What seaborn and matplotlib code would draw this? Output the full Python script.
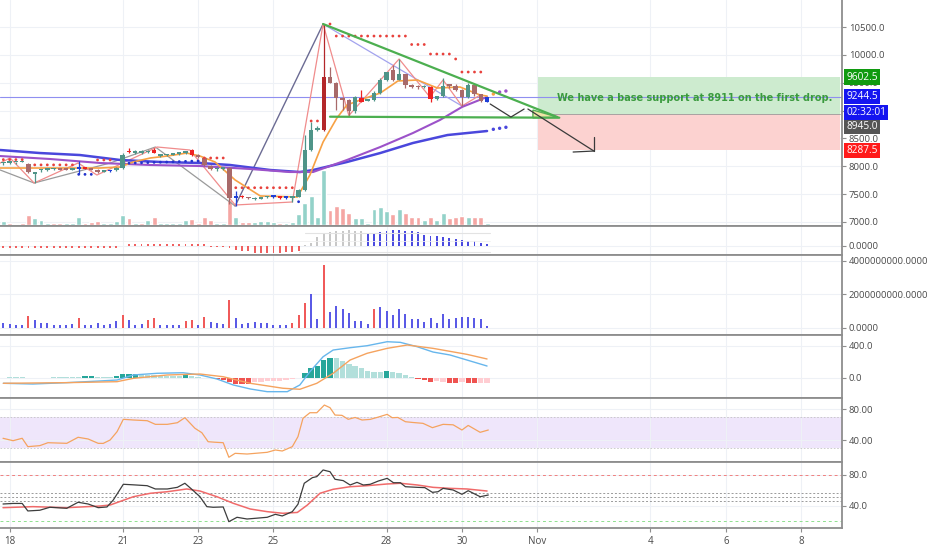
import numpy as np
import matplotlib
matplotlib.use("Agg")
import matplotlib.pyplot as plt
import matplotlib.transforms as mtransforms
from matplotlib.ticker import FormatStrFormatter, FuncFormatter
import seaborn as sns

sns.set_style("white")
plt.rcParams['font.family'] = ['Open Sans', 'DejaVu Sans']

# ---------------- DATA ----------------
# 4h candles, index 0 = Oct 17 20:00
opens = [8050, 8060, 8068, 8075, 8045, 7860, 7925, 7935, 7945, 7952,
         7940, 7935, 7960, 7975, 7960, 7935, 7905, 7912, 7930, 7975,
         8265, 8245, 8245, 8250, 8300, 8190, 8198, 8205, 8220, 8240,
         8290, 8200, 8150, 8005, 7945, 7955, 7969, 7435, 7452, 7440,
         7410, 7420, 7442, 7448, 7448, 7432, 7430, 7450, 7570, 8290,
         8660, 8650, 9600, 9500, 9230, 9190, 8990, 9230, 9180, 9190,
         9320, 9550, 9720, 9555, 9650, 9445, 9430, 9420, 9430, 9210,
         9270, 9450, 9450, 9370, 9240, 9460, 9290, 9160]
highs = [8080, 8095, 8085, 8115, 8060, 7895, 7955, 7965, 7962, 7960,
         7955, 7970, 8095, 7990, 7975, 7945, 7935, 7935, 7990, 8235,
         8330, 8290, 8285, 8300, 8335, 8220, 8225, 8235, 8255, 8280,
         8310, 8212, 8165, 8015, 7982, 7995, 7985, 7560, 7485, 7452,
         7440, 7452, 7468, 7465, 7458, 7445, 7458, 7585, 8560, 8800,
         8725, 10554, 9780, 9520, 9250, 9210, 9260, 9370, 9210, 9345,
         9580, 9700, 9820, 9926, 9660, 9470, 9455, 9462, 9440, 9270,
         9585, 9470, 9470, 9380, 9500, 9480, 9300, 9250]
lows = [8030, 8040, 8045, 8068, 7880, 7700, 7905, 7920, 7930, 7928,
        7925, 7925, 7860, 7950, 7930, 7880, 7890, 7900, 7920, 7960,
        8230, 8220, 8225, 8230, 8230, 8170, 8180, 8195, 8210, 8225,
        8190, 8150, 8010, 7935, 7920, 7940, 7320, 7290, 7425, 7415,
        7395, 7410, 7430, 7435, 7420, 7415, 7360, 7440, 7560, 8280,
        8640, 8640, 9490, 9010, 9010, 8911, 8960, 9150, 9165, 9170,
        9300, 9530, 9530, 9540, 9400, 9400, 9380, 9400, 9160, 9190,
        9250, 9410, 9350, 9082, 9220, 9270, 9150, 9150]
closes = [8065, 8072, 8075, 8080, 7900, 7872, 7935, 7950, 7952, 7940,
          7935, 7955, 7985, 7960, 7940, 7900, 7925, 7920, 7975, 8200,
          8250, 8255, 8258, 8265, 8240, 8205, 8210, 8220, 8242, 8265,
          8205, 8165, 8025, 7950, 7955, 7968, 7430, 7452, 7440, 7425,
          7418, 7435, 7452, 7455, 7432, 7436, 7442, 7570, 8300, 8650,
          8690, 9603, 9500, 9230, 9190, 8990, 9240, 9160, 9195, 9320,
          9550, 9690, 9550, 9660, 9460, 9430, 9420, 9440, 9200, 9262,
          9450, 9440, 9370, 9240, 9460, 9290, 9170, 9244.5]
candle_codes = ("ggggbggggb" "bgurbbgugg" "rgggrggggg" "rbbbggburb"
                "gggurugggg" "gdbbbbgrgg" "ggbgbbbgrg" "gbbbgbbu")
# main-pane volume (thousands)
main_vol = [4, 2.7, 1.3, 2.7, 10, 7.3, 5, 2.7, 2.3, 2.7,
            2.7, 2.7, 8.3, 2.7, 3.3, 4, 2.7, 2.7, 4, 10.7,
            7.7, 2.7, 2.7, 5, 8.3, 2.7, 2.7, 2.7, 2.7, 5,
            6.7, 2.7, 8.3, 5, 2.7, 2.7, 25, 8, 3, 3,
            3, 4, 4, 3, 2, 2, 3, 11, 22, 29,
            8, 55, 15, 19, 17, 12, 7, 7, 2, 16,
            18, 14, 11, 16, 12, 8, 8, 5, 8, 5,
            12, 7, 8, 9, 8, 8, 8, 2]
main_vol_codes = ("grgrrgggrr" "gggrrrgggg" "rgrgrggggg" "rrrrggrgrr"
                  "ggggrggggg" "ggrrrrgggg" "ggrgrrrgrg" "grrrgrrg")

# parabolic SAR dots
sar_red_x = [0, 1, 2, 3, 5, 6, 7, 8, 9, 10, 11, 15, 16, 17, 32, 33, 34, 35,
             37, 38, 39, 40, 41, 42, 43, 44, 45, 46, 49, 50, 52,
             53, 54, 55, 56, 57, 58, 59, 60, 61, 62, 63, 64, 65, 66, 67,
             68, 69, 70, 71, 72, 73, 74, 75, 76]
sar_red_y = [8120, 8120, 8120, 8120, 8025, 8025, 8025, 8025, 8025, 8025, 8025,
             8113, 8113, 8113, 8149, 8149, 8149, 8149,
             7615, 7615, 7615, 7615, 7615, 7615, 7615, 7615, 7615, 7615,
             8813, 8813, 10554,
             10338, 10338, 10338, 10338, 10338, 10338, 10338, 10338, 10338,
             10338, 10338, 10338, 10186, 10186, 10186,
             10015, 10015, 10015, 10015, 9926, 9692, 9692, 9692, 9692]
sar_blue_x = [12, 13, 14, 20, 21, 22, 23, 24, 25, 26, 27, 28, 29, 30, 31, 47]
sar_blue_y = [7855, 7855, 7855, 8055, 8060, 8062, 8066, 8070, 8073, 8076,
              8080, 8084, 8088, 8092, 8096, 7364]
fwd_orange_x, fwd_orange_y = [78], [9297]
fwd_purple_x, fwd_purple_y = [79, 80], [9333, 9351]
fwd_blue_x, fwd_blue_y = [78, 79, 80], [8664, 8682, 8700]

# moving averages / zigzags (candle index, price)
ma_blue_x = [-0.5, 5.8, 12.2, 18.6, 25.0, 31.3, 36.1, 42.5, 47.2, 49.3, 54.7, 60.0, 65.2, 70.7, 77.0]
ma_blue_y = [8292, 8238, 8202, 8113, 8077, 8059, 8023, 7933, 7897, 7933, 8077, 8238, 8418, 8561, 8633]
ma_purple_x = [-0.5, 7.4, 15.4, 23.4, 31.3, 39.3, 45.6, 49.3, 54.7, 60.0, 65.2, 69.5, 73.0, 77.0]
ma_purple_y = [8184, 8131, 8059, 8023, 8005, 7951, 7897, 7897, 8113, 8346, 8597, 8831, 9064, 9244]
ema_x = [-0.5, 4.7, 10.1, 15.4, 18.6, 20.65, 23.4, 26.1, 29.2, 31.3, 33.7, 36.9, 40.9,
         46.8, 48.8, 50.9, 53.1, 54.7, 56.8, 60.0, 62.8, 65.9, 69.1, 72.7, 75.9, 77.0]
ema_y = [7969, 7969, 7969, 7969, 7987, 8077, 8149, 8184, 8238, 8184, 8077, 7754, 7467,
         7449, 7843, 8436, 8867, 9100, 9190, 9315, 9531, 9549, 9405, 9423, 9279, 9261]
zz_gray_x = [-0.5, 4.9, 17.0, 24.2, 36.9]
zz_gray_y = [7933, 7700, 8059, 8346, 7287]
zz_slate_x, zz_slate_y = [36.9, 50.9], [7287, 10554]
zz_lav_x, zz_lav_y = [50.9, 73.0], [10554, 9082]
zz_pink_x = [-0.5, 1.07, 4.9, 11.9, 14.9, 24.5, 29.7, 36.9, 46.0, 50.9, 55.0, 63.0, 67.9, 70.0, 73.0, 75.9]
zz_pink_y = [8059, 8149, 7700, 8059, 7843, 8346, 8292, 7305, 7359, 10554, 8911, 9926, 9244, 9549, 9082, 9279]

# drawings
tri_upper_x, tri_upper_y = [50.9, 88.2], [10554, 8884]
tri_lower_x, tri_lower_y = [52.0, 88.5], [8890, 8872]
tri_tip_x, tri_tip_y = [84.3, 88.3, 84.3], [9010, 8880, 8868]
proj1_x, proj1_y = [77.5, 80.8, 82.9], [9118, 8884, 9028]
proj2_x, proj2_y = [83.5, 94.0], [9028, 8274]
arrow_h_x, arrow_h_y = [90.7, 94.0], [8256, 8274]
arrow_v_x, arrow_v_y = [94.1, 94.1], [8526, 8274]
pos_start, pos_end = 85.1, 133.2
target_price, entry_price, stop_price = 9602.5, 8945.0, 8287.5
last_price = 9244.5
note_text = "We have a base support at 8911 on the first drop."

# pane 2 oscillator histogram
osc_vals = [-25] * 19 + [0] + [22] * 13 + [-8, -8, -8] + \
           [-26, -41, -48, -55, -70, -76, -76, -70, -70, -66, -60, -50] + \
           [5, 24, 90, 117, 140, 150, 150, 157, 150, 145] + \
           [125, 130, 140, 150, 157, 157, 150, 143, 133, 110,
            100, 93, 87, 77, 70, 60, 50, 43, 27, 15]
osc_codes = "r" * 48 + "k" * 10 + "u" * 20

# pane 3 bars (billions)
bar3_vals = [0.30, 0.20, 0.14, 0.14, 0.70, 0.44, 0.30, 0.26, 0.18, 0.18,
             0.18, 0.24, 0.56, 0.18, 0.18, 0.30, 0.18, 0.20, 0.38, 0.74,
             0.46, 0.18, 0.24, 0.46, 0.56, 0.18, 0.14, 0.14, 0.18, 0.40,
             0.44, 0.14, 0.64, 0.34, 0.26, 0.22, 1.65, 0.56, 0.22, 0.30,
             0.34, 0.30, 0.30, 0.14, 0.14, 0.14, 0.26, 0.74, 1.49, 1.99,
             0.50, 3.74, 0.94, 1.29, 1.09, 0.86, 0.40, 0.40, 0.20, 1.13,
             1.23, 1.00, 0.74, 1.09, 0.80, 0.50, 0.50, 0.34, 0.56, 0.26,
             0.84, 0.50, 0.60, 0.64, 0.64, 0.56, 0.54, 0.10]
bar3_codes = ("bbbbrbbbbb" "bbrbbbbbbr" "bbbrrbbbbr" "rbrbbbrbbb"
              "bbbbbbrrrb" "brbbbbbbbr" "bbbbbbbbbb" "bbbbbbbb")

# MACD
macd_hist = [0, 10, 10, 10, 0, 0, 0, 0, 12, 12,
             12, 12, 12, 20, 20, 5, 5, 5, 20, 45,
             45, 42, 35, 30, 28, 25, 25, 22, 20, 40,
             20, 12, 0, -10, -15, -30, -55, -80, -85, -85,
             -60, -50, -45, -42, -40, -30, -20, -10, 62, 117,
             150, 221, 250, 242, 212, 167, 150, 117, 83, 75,
             75, 87, 67, 54, 33, 3, -12, -29, -50, -42,
             -50, -67, -71, -50, -62, -71, -71, -71]
macd_codes = ("tttttttttt" "tttTTtttTT" "TTtttttttT" "tttRRRRRRR"
              "ppppppppTT" "TTTttttttt" "tTttttRRRp" "pRRpRRpp")
macd_line_x = [0, 4.7, 10.1, 15.4, 18.1, 20.7, 24.5, 28.6, 31.3, 34.0, 36.6, 39.3, 42.0,
               45.2, 47.2, 48.8, 50.9, 52.5, 55.2, 57.9, 61.1, 63.2, 65.9, 68.4, 71.1, 73.8, 77.0]
macd_line_y = [-70, -79, -62, -41, -29, 34, 55, 62, 34, -16, -91, -141, -175,
               -175, -91, 75, 262, 346, 375, 400, 450, 442, 387, 321, 284, 221, 146]
signal_x = [0, 10.1, 18.1, 20.7, 26.1, 31.3, 35.0, 39.3, 44.5, 47.2, 49.9, 52.5, 55.2,
            57.9, 61.1, 64.3, 68.4, 73.8, 77.0]
signal_y = [-70, -62, -50, -8, 34, 46, 12, -70, -132, -145, -70, 55, 221,
            305, 367, 409, 367, 292, 234]

# RSI
rsi_x = [-0.05, 1.55, 3.0, 3.9, 5.8, 7.1, 10.1, 11.9, 13.5, 15.1, 15.9, 17.0, 18.1, 19.1,
         20.7, 22.9, 24.2, 26.1, 27.7, 28.9, 30.5, 31.6, 32.6, 33.7, 35.0, 35.9, 36.9, 38.8,
         42.0, 43.3, 44.4, 46.0, 46.9, 47.7, 48.8, 49.9, 51.1, 52.0, 52.8, 53.9, 54.9, 56.0,
         57.1, 58.4, 59.7, 61.1, 61.9, 62.8, 64.0, 65.2, 66.8, 68.3, 70.0, 71.6, 73.0, 74.0,
         75.9, 77.2]
rsi_y = [42.6, 39.5, 42.6, 31.8, 33.1, 36.9, 36.1, 43.9, 41.7, 36.1, 36.0, 40.4, 51.1, 67.1,
         66.2, 65.3, 60.6, 60.6, 62.7, 69.2, 55.5, 49.8, 38.2, 37.5, 36.9, 18.1, 23.2, 22.3,
         24.5, 27.5, 26.2, 31.8, 44.7, 68.4, 75.6, 75.6, 85.5, 82.1, 72.6, 72.2, 67.1, 69.5,
         66.2, 67.0, 70.0, 73.5, 69.2, 69.5, 64.0, 63.0, 61.9, 56.3, 60.6, 60.0, 53.3, 59.2,
         50.3, 53.3]

# Stochastic
stk_x = [-0.05, 1.55, 3.0, 3.9, 5.8, 7.4, 10.1, 11.9, 13.5, 15.1, 16.5, 17.5, 19.1, 20.7,
         22.9, 24.2, 26.1, 27.7, 28.9, 30.0, 31.3, 32.4, 33.4, 35.0, 35.9, 37.2, 38.8, 42.0,
         43.3, 44.4, 46.0, 46.9, 47.9, 49.2, 49.9, 50.9, 52.0, 52.8, 54.1, 55.2, 56.3, 57.3,
         58.4, 59.7, 61.1, 62.1, 63.2, 64.0, 65.9, 67.1, 68.3, 69.2, 70.0, 71.6, 73.0, 74.0,
         75.9, 77.2]
stk_y = [42.3, 43, 43, 33.4, 34.3, 38.1, 36.8, 44.5, 42.3, 37.6, 38.5, 47.4, 67.5, 66.8,
         65.7, 61.5, 61.5, 63.6, 68.8, 61.1, 51.6, 38.9, 38.1, 38.5, 19.7, 25.3, 23.1, 25.3,
         29.1, 27, 32.5, 42, 68.8, 76, 77.3, 85.8, 83.6, 73.9, 72.2, 66.6, 70, 66.6,
         67.5, 71.7, 75.1, 69.5, 69.5, 64.4, 63.6, 63.2, 57.2, 58, 62.3, 60.2, 54.7, 59.3,
         51.6, 53.8]
std_x = [-0.05, 4.7, 10.1, 15.4, 17.0, 20.7, 23.4, 26.1, 29.2, 31.3, 34.0, 36.6, 39.3, 42.0,
         44.5, 46.8, 48.4, 50.4, 52.5, 55.2, 57.9, 61.1, 63.2, 65.9, 68.4, 71.1, 73.8, 77.0]
std_y = [37.6, 38.9, 37.6, 39.7, 41, 51.6, 56, 58, 61.5, 58.9, 51.6, 43.2, 35.9, 32.5,
         30.4, 31.5, 41, 56, 61.1, 64.4, 65.7, 67.9, 68.8, 66.6, 63.6, 62.3, 61.5, 58.9]

x_tick_pos = [1, 19, 31, 43, 61, 73, 85, 103, 115, 127]
x_tick_labels = ["18", "21", "23", "25", "28", "30", "Nov", "4", "6", "8"]
price_ticks = [7000, 7500, 8000, 8500, 9000, 9500, 10000, 10500]
hidden_price_ticks = [9000]  # fully covered by the price tags in the reference

# ---------------- STYLE ----------------
candle_col = {"g": "#4f9488", "b": "#a86a6a", "r": "#ee2222", "u": "#1f3fd6", "d": "#b3272a"}
vol_col = {"g": "#93d2c9", "r": "#f5a6a3"}
bar3_col = {"b": "#5a5ae6", "r": "#f05a5a"}
osc_col = {"r": "#f06060", "k": "#c8c8c8", "u": "#4a4ae0"}
macd_col = {"t": "#b2dfdb", "T": "#26a69a", "R": "#ef5350", "p": "#ffcdd2"}
GRID = "#eef1f6"
SPINE = "#8e8e8e"
TXT = "#4a4a4a"

fig = plt.figure(figsize=(9.32, 5.5), dpi=100)
W = 842 / 932


def add_pane(top, bot):
    return fig.add_axes([0, 1 - bot / 550, W, (bot - top) / 550])


ax1 = add_pane(0, 226)
ax2 = add_pane(226, 255)
ax3 = add_pane(255, 335)
ax4 = add_pane(335, 398)
ax5 = add_pane(398, 462)
ax6 = add_pane(462, 528)
axes = [ax1, ax2, ax3, ax4, ax5, ax6]

XMIN, XMAX = -0.53, 133.5
for a in axes:
    a.set_xlim(XMIN, XMAX)
    a.set_xticks(x_tick_pos)
    a.grid(True, color=GRID, lw=0.8)
    a.set_axisbelow(True)
    a.yaxis.tick_right()
    a.tick_params(axis="y", direction="out", length=3, width=0.8, color=SPINE,
                  labelsize=6.8, labelcolor=TXT, pad=2)
    a.tick_params(axis="x", bottom=False, labelbottom=False)
    a.spines["left"].set_visible(False)
    for s in ("right", "top", "bottom"):
        a.spines[s].set_color(SPINE)
        a.spines[s].set_linewidth(1.3)
ax1.spines["top"].set_visible(False)
ax6.tick_params(axis="x", bottom=True, labelbottom=True, direction="out", length=3,
                color=SPINE, labelsize=7, labelcolor=TXT, pad=3)
ax6.set_xticklabels(x_tick_labels)

# ---------------- MAIN PANE ----------------
YMIN, YMAX = 6928, 10985
ax1.set_ylim(YMIN, YMAX)
ax1.set_yticks(price_ticks)
ax1.yaxis.set_major_formatter(FuncFormatter(
    lambda v, p: "" if round(v) in hidden_price_ticks else f"{v:.1f}"))
px = (YMAX - YMIN) / 226.0

idx = np.arange(len(opens))
o = np.array(opens); c = np.array(closes)
# volume
ax1.bar(idx, np.array(main_vol) * px, bottom=YMIN + px * 0.5, width=0.78,
        color=[vol_col[k] for k in main_vol_codes], zorder=1)

# position boxes
ax1.fill_between([pos_start, pos_end], entry_price, target_price, color="#cdebcf", zorder=1.2, lw=0)
ax1.fill_between([pos_start, pos_end], stop_price, entry_price, color="#fcd2d0", zorder=1.2, lw=0)
ax1.plot([pos_start, pos_end], [entry_price, entry_price], color="#9a9a9a", lw=0.6, zorder=1.3)
ax1.text((pos_start + pos_end) / 2 + 0.9, 9232, note_text, color="#3a9a3e", fontsize=7.0,
         fontweight="bold", family="DejaVu Sans", ha="center", va="center", zorder=6)

# last price line
ax1.axhline(last_price, color="#8f8ff0", lw=0.8, zorder=1.5)

# zigzag and MA lines
sns.lineplot(x=zz_gray_x, y=zz_gray_y, ax=ax1, color="#9a9a9a", lw=0.9, estimator=None, sort=False, zorder=2)
sns.lineplot(x=zz_slate_x, y=zz_slate_y, ax=ax1, color="#6b6b93", lw=1.0, estimator=None, sort=False, zorder=2)
sns.lineplot(x=zz_lav_x, y=zz_lav_y, ax=ax1, color="#a3a3ee", lw=0.9, estimator=None, sort=False, zorder=2)
sns.lineplot(x=zz_pink_x, y=zz_pink_y, ax=ax1, color="#f08c8c", lw=0.9, estimator=None, sort=False, zorder=2)
sns.lineplot(x=ma_blue_x, y=ma_blue_y, ax=ax1, color="#4a47dc", lw=1.8, estimator=None, sort=False, zorder=2.5)
sns.lineplot(x=ma_purple_x, y=ma_purple_y, ax=ax1, color="#9c52c9", lw=1.5, estimator=None, sort=False, zorder=2.6)
sns.lineplot(x=ema_x, y=ema_y, ax=ax1, color="#f7a144", lw=1.2, estimator=None, sort=False, zorder=2.7)

# candles
cc = [candle_col[k] for k in candle_codes]
ax1.vlines(idx, lows, highs, colors=cc, lw=0.9, zorder=3)
body_lo = np.minimum(o, c)
body_h = np.maximum(np.abs(c - o), px * 1.6)
ax1.bar(idx, body_h, bottom=body_lo, width=0.7, color=cc, lw=0, zorder=3.1)

# SAR dots
sns.scatterplot(x=sar_red_x, y=sar_red_y, ax=ax1, color="#e8413c", s=4, edgecolor="none", zorder=4, legend=False)
sns.scatterplot(x=sar_blue_x, y=sar_blue_y, ax=ax1, color="#2233cc", s=4, edgecolor="none", zorder=4, legend=False)
sns.scatterplot(x=fwd_orange_x, y=fwd_orange_y, ax=ax1, color="#f7a144", s=6, edgecolor="none", zorder=4, legend=False)
sns.scatterplot(x=fwd_purple_x, y=fwd_purple_y, ax=ax1, color="#9c52c9", s=6, edgecolor="none", zorder=4, legend=False)
sns.scatterplot(x=fwd_blue_x, y=fwd_blue_y, ax=ax1, color="#4a47dc", s=6, edgecolor="none", zorder=4, legend=False)

# triangle drawing
ax1.fill(tri_tip_x, tri_tip_y, facecolor="#efe3a6", edgecolor="#58b058", lw=1.0, zorder=4.5)
ax1.plot(tri_upper_x, tri_upper_y, color="#4caf50", lw=1.6, zorder=4.6, solid_capstyle="round")
ax1.plot(tri_lower_x, tri_lower_y, color="#4caf50", lw=1.6, zorder=4.6, solid_capstyle="round")
# projection path
for xs, ys in ((proj1_x, proj1_y), (proj2_x, proj2_y), (arrow_h_x, arrow_h_y), (arrow_v_x, arrow_v_y)):
    ax1.plot(xs, ys, color="#3a3a3a", lw=0.9, zorder=4.7)

# right-axis price labels
trans = mtransforms.blended_transform_factory(ax1.transAxes, ax1.transData)


def tag(y, text, fc, dy_pts=0):
    ax1.annotate(text, xy=(1.0, y), xycoords=trans, xytext=(3, dy_pts), textcoords="offset points",
                 ha="left", va="center", fontsize=7.3, color="white", zorder=20, annotation_clip=False,
                 bbox=dict(boxstyle="square,pad=0.2", fc=fc, ec="none"))


tag(target_price, "9602.5", "#109a10")
tag(entry_price, "8945.0", "#555555", dy_pts=-9.1)
tag(last_price, "9244.5", "#1515f0")
tag(last_price, "02:32:01", "#1515f0", dy_pts=-11.3)
tag(stop_price, "8287.5", "#ff1a1a")

# ---------------- PANE 2 ----------------
ax2.set_ylim(-93, 197)
ax2.set_yticks([0])
ax2.yaxis.set_major_formatter(FormatStrFormatter("%.4f"))
ax2.plot([48, 77.5], [130, 130], color="#e3e3e3", lw=0.8)
ax2.plot([47, 77.5], [-60, -60], color="#e3e3e3", lw=0.8)
ax2.plot([XMIN, 77.5], [45, 45], color="#f0f0f0", lw=0.6)
ax2.bar(idx, osc_vals, width=0.3, color=[osc_col[k] for k in osc_codes], lw=0)

# ---------------- PANE 3 ----------------
ax3.set_ylim(-0.436e9, 4.34e9)
ax3.set_yticks([0, 2e9, 4e9])
ax3.yaxis.set_major_formatter(FormatStrFormatter("%.4f"))
ax3.bar(idx, np.array(bar3_vals) * 1e9, width=0.32, color=[bar3_col[k] for k in bar3_codes], lw=0)

# ---------------- PANE 4 (MACD) ----------------
ax4.set_ylim(-254, 534)
ax4.set_yticks([0, 400])
ax4.yaxis.set_major_formatter(FormatStrFormatter("%.1f"))
ax4.bar(idx, macd_hist, width=0.85, color=[macd_col[k] for k in macd_codes], lw=0)
sns.lineplot(x=macd_line_x, y=macd_line_y, ax=ax4, color="#67b6ec", lw=1.0, estimator=None, sort=False)
sns.lineplot(x=signal_x, y=signal_y, ax=ax4, color="#f5a35f", lw=1.0, estimator=None, sort=False)

# ---------------- PANE 5 (RSI) ----------------
ax5.set_ylim(12.0, 94.6)
ax5.set_yticks([40, 80])
ax5.yaxis.set_major_formatter(FormatStrFormatter("%.2f"))
ax5.fill_between([XMIN, XMAX], 30, 70, color="#efe6fb", lw=0, zorder=0.5)
for lvl in (30, 70):
    ax5.axhline(lvl, color="#c5c5c5", lw=0.6, ls=(0, (2, 2)), zorder=0.6)
sns.lineplot(x=rsi_x, y=rsi_y, ax=ax5, color="#f5a35f", lw=0.9, estimator=None, sort=False)

# ---------------- PANE 6 (Stoch) ----------------
ax6.set_ylim(11.6, 96)
ax6.set_yticks([40, 80])
ax6.yaxis.set_major_formatter(FormatStrFormatter("%.1f"))
ax6.axhline(80, color="#f08080", lw=0.7, ls=(0, (3, 3)))
ax6.axhline(20, color="#8fe08f", lw=0.7, ls=(0, (3, 3)))
for lvl in (56, 51, 46):
    ax6.axhline(lvl, color="#9a9a9a", lw=0.7, ls=(0, (2, 2)))
sns.lineplot(x=std_x, y=std_y, ax=ax6, color="#f06a6a", lw=1.1, estimator=None, sort=False)
sns.lineplot(x=stk_x, y=stk_y, ax=ax6, color="#3d3d3d", lw=0.9, estimator=None, sort=False)

for a in axes:
    a.set_xlabel("")
    a.set_ylabel("")

fig.savefig("out.png", dpi=100)
